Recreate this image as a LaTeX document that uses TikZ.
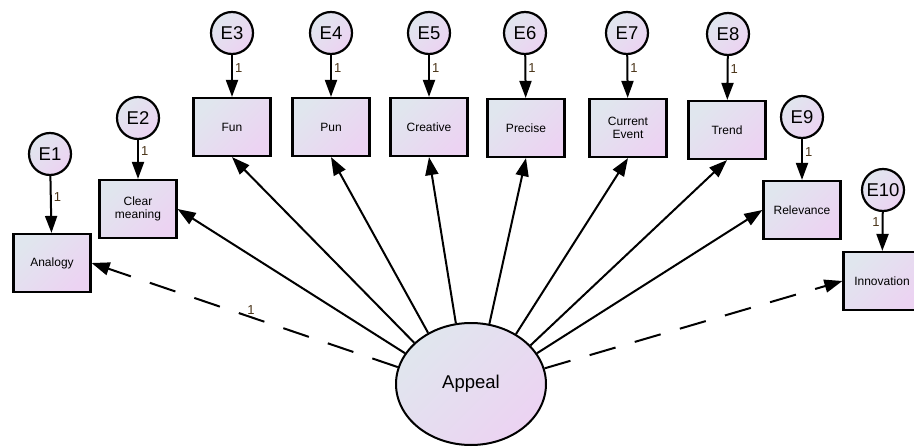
\documentclass[tikz,border=0pt]{standalone}
\usepackage{fontspec}
\setmainfont{Liberation Sans}
\usetikzlibrary{arrows.meta,shapes.geometric}
\definecolor{fillA}{HTML}{E0E6EE}
\definecolor{fillB}{HTML}{ECD3F2}
\definecolor{onecol}{HTML}{4A3418}

\begin{document}
\begin{tikzpicture}[x=1pt,y=-1pt,
    obs node/.style={rectangle,draw,line width=2.2pt,minimum width=77pt,minimum height=58pt,
      inner sep=2pt,align=center,font=\fontsize{12}{13.5}\selectfont,
      top color=fillA,bottom color=fillB,shading angle=45},
    err node/.style={circle,draw,line width=2.2pt,minimum size=42pt,inner sep=0pt,
      font=\fontsize{18.5}{20}\selectfont,top color=fillA,bottom color=fillB,shading angle=45},
    lat node/.style={ellipse,draw,line width=2pt,minimum width=150pt,minimum height=122pt,
      font=\fontsize{18.5}{20}\selectfont,top color=fillA,bottom color=fillB,shading angle=45},
    regpath/.style={-{Triangle[length=18pt,width=13pt]},line width=2pt},
    regdash/.style={regpath,dash pattern=on 27pt off 20pt},
    errpath/.style={-{Triangle[length=17pt,width=12pt]},line width=2pt},
    one/.style={text=onecol,font=\fontsize{13}{13}\selectfont,inner sep=2pt}
  ]
  \useasboundingbox (0,0) rectangle (914,447);
  \clip (0,0) rectangle (914,447);

  \node[lat node] (appeal) at (471,384) {Appeal};

  \node[obs node] (analogy) at (52,263) {Analogy};
  \node[obs node] (clear) at (138,209) {Clear\\meaning};
  \node[obs node] (fun) at (232,127) {Fun};
  \node[obs node] (pun) at (331,127) {Pun};
  \node[obs node] (creative) at (429,127) {Creative};
  \node[obs node] (precise) at (526,128) {Precise};
  \node[obs node] (current) at (628,128) {Current\\Event};
  \node[obs node] (trend) at (727,130) {Trend};
  \node[obs node] (relevance) at (802,210) {Relevance};
  \node[obs node] (innovation) at (882,281) {Innovation};

  \node[err node] (e1) at (50,154) {E1};
  \node[err node] (e2) at (138,118) {E2};
  \node[err node] (e3) at (232,33) {E3};
  \node[err node] (e4) at (331,33) {E4};
  \node[err node] (e5) at (429,33) {E5};
  \node[err node] (e6) at (525,33) {E6};
  \node[err node] (e7) at (627,33) {E7};
  \node[err node] (e8) at (728,34) {E8};
  \node[err node] (e9) at (802,117) {E9};
  \node[err node] (e10) at (883,190) {E10};

  % regression paths
  \path
   (appeal.167) edge[regdash] node[one,above,pos=0.48] {1} (analogy.east)
   (appeal.155) edge[regpath] (clear.east)
   (appeal.144) edge[regpath] (fun.south)
   (appeal.130) edge[regpath] (pun.south)
   (appeal.104) edge[regpath] (creative.south)
   (appeal.73) edge[regpath] (precise.south)
   (appeal.48) edge[regpath] (current.south)
   (appeal.33) edge[regpath] (trend.south)
   (appeal.25) edge[regpath] (relevance.west)
   (appeal.12) edge[regdash] (innovation.west);

  % error terms
  \path
   (e1) edge[errpath] node[one,right,pos=0.36] {1} (analogy)
   (e2) edge[errpath] node[one,right,pos=0.28] {1} (clear)
   (e3) edge[errpath] node[one,right,pos=0.3] {1} (fun)
   (e4) edge[errpath] node[one,right,pos=0.3] {1} (pun)
   (e5) edge[errpath] node[one,right,pos=0.3] {1} (creative)
   (e6) edge[errpath] node[one,right,pos=0.3] {1} (precise)
   (e7) edge[errpath] node[one,right,pos=0.3] {1} (current)
   (e8) edge[errpath] node[one,right,pos=0.3] {1} (trend)
   (e9) edge[errpath] node[one,right,pos=0.32] {1} (relevance)
   (e10) edge[errpath] node[one,left,pos=0.25] {1} (innovation);
\end{tikzpicture}
\end{document}
